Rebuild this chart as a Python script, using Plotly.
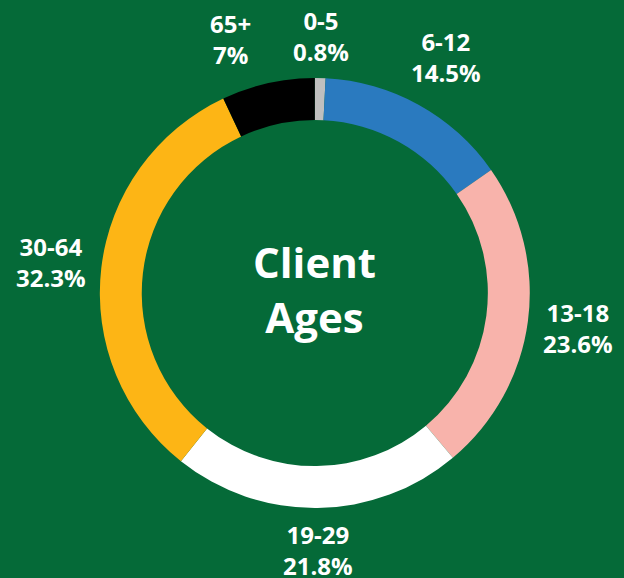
import math
import plotly.graph_objects as go

age_groups = ["0-5", "6-12", "13-18", "19-29", "30-64", "65+"]
shares = [0.8, 14.5, 23.6, 21.8, 32.3, 7]
share_labels = ["0.8%", "14.5%", "23.6%", "21.8%", "32.3%", "7%"]
slice_colors = ["#BFBFBF", "#2A7ABF", "#F8B3AB", "#FFFFFF", "#FDB515", "#000000"]
center_title = "Client<br>Ages"

bg = "#056A38"
W, H = 624, 578
dom_x = [0.160, 0.849]
dom_y = [0.121, 0.865]
FONT = "Open Sans"

fig = go.Figure(go.Pie(
    labels=age_groups,
    values=shares,
    marker=dict(colors=slice_colors, line=dict(width=0)),
    hole=0.805,
    sort=False,
    direction="clockwise",
    rotation=0,
    textinfo="none",
    showlegend=False,
    automargin=False,
    hoverinfo="label+percent",
    domain=dict(x=dom_x, y=dom_y),
))

# outside labels placed radially at each slice's mid-angle
cx = (dom_x[0] + dom_x[1]) / 2 * W
cy = (1 - (dom_y[0] + dom_y[1]) / 2) * H
R = min((dom_x[1] - dom_x[0]) * W, (dom_y[1] - dom_y[0]) * H) / 2
total = sum(shares)
cum = 0.0
boxes = []
for lab, val, pct in zip(age_groups, shares, share_labels):
    mid = (cum + val / 2) / total * 2 * math.pi
    cum += val
    s, c = math.sin(mid), math.cos(mid)
    half_w = 7.2 * max(len(lab), len(pct))
    half_h = 30.5
    d = R + 11 + abs(s) * half_w + abs(c) * half_h
    boxes.append([cx + d * s, cy - d * c, half_w, half_h, f"{lab}<br>{pct}"])

# simple overlap avoidance: keep a minimum horizontal gap between
# labels sharing the same vertical band (push the outer one outward)
MIN_GAP = 40
for i in range(len(boxes)):
    for j in range(len(boxes)):
        if i >= j:
            continue
        a, b = boxes[i], boxes[j]
        if abs(a[1] - b[1]) < a[3] + b[3]:
            gap = abs(a[0] - b[0]) - a[2] - b[2]
            if gap < MIN_GAP:
                outer = a if abs(a[0] - cx) > abs(b[0] - cx) else b
                outer[0] += (MIN_GAP - gap) * (1 if outer[0] > cx else -1)

for px, py, _, _, txt in boxes:
    fig.add_annotation(
        text=txt, x=px / W, y=1 - py / H,
        xref="paper", yref="paper", xanchor="center", yanchor="middle",
        showarrow=False,
        font=dict(family=FONT, size=24, color="white", weight="bold"),
    )

fig.add_annotation(
    text=center_title, x=cx / W, y=1 - cy / H, xref="paper", yref="paper",
    xanchor="center", yanchor="middle", yshift=4,
    showarrow=False,
    font=dict(family=FONT, size=42, color="white", weight="bold"),
)

fig.update_layout(
    width=W, height=H,
    margin=dict(l=0, r=0, t=0, b=0),
    paper_bgcolor=bg, plot_bgcolor=bg,
)

fig.write_html("out.html", config={"displayModeBar": False},
               post_script="document.body.style.margin='0';")
